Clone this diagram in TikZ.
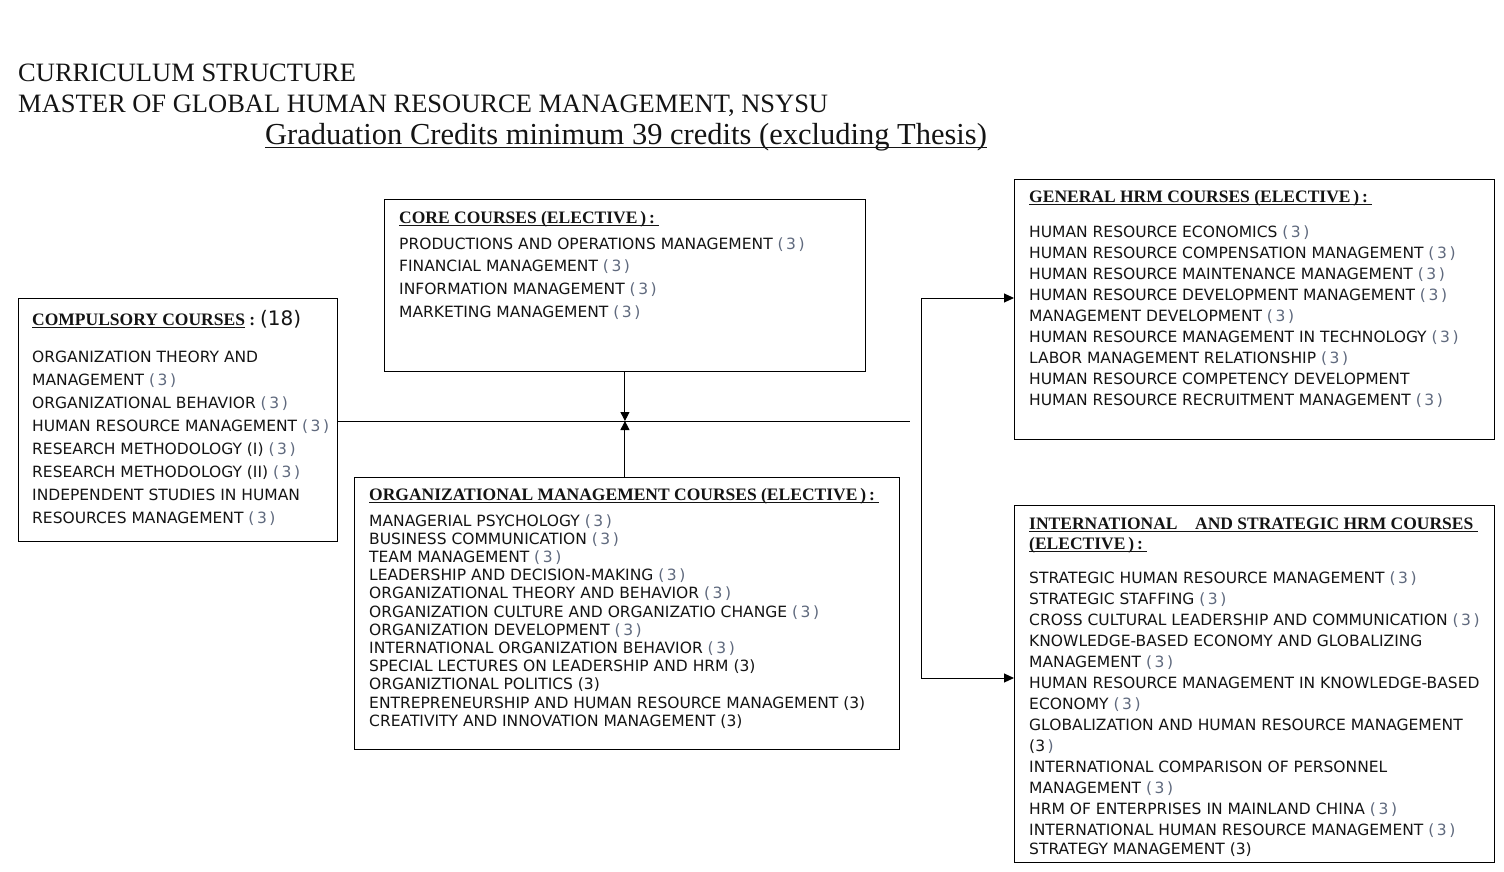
\documentclass[tikz,border=0pt]{standalone}
\usepackage{fontspec}
\usetikzlibrary{arrows.meta}
\setmainfont{Liberation Serif}
\newfontfamily\bodyfont{DejaVu Sans}
\definecolor{credgray}{RGB}{95,105,125}
\definecolor{inkblack}{RGB}{20,20,20}
\newsavebox\hdbox
\newcommand{\hdline}[1]{\leavevmode\sbox\hdbox{#1}\rlap{\rule[-2.6pt]{\wd\hdbox}{0.8pt}}\usebox\hdbox}
\newcommand{\credits}{\ {\color{credgray}(\,3\,)}}
\newcommand{\hdfont}{\rmfamily\fontsize{17.5}{20}\selectfont\bfseries}

\tikzset{
  crsframe/.style={draw, line width=0.9pt, anchor=north west, inner sep=0pt},
  txt/.style={anchor=base west, inner sep=0pt, text=inkblack},
  link/.style={line width=1pt},
  arrowlink/.style={-{Triangle[length=9pt,width=9pt]}}
}

\begin{document}
\begin{tikzpicture}[x=1pt,y=-1pt]
\useasboundingbox (0,0) rectangle (1504,872);

% title
\node[txt, font=\fontsize{26.5}{30}\selectfont] (title1) at (18,82) {CURRICULUM STRUCTURE};
\node[txt, font=\fontsize{26.5}{30}\selectfont] (title2) at (18,113) {MASTER OF GLOBAL HUMAN RESOURCE MANAGEMENT, NSYSU};
\node[txt, font=\fontsize{30.5}{34}\selectfont] (title3) at (265,145) {\hdline{Graduation Credits minimum 39 credits (excluding Thesis)}};

% frames
\node[crsframe, minimum width=319pt, minimum height=243pt] (comp) at (18,298) {};
\node[crsframe, minimum width=481pt, minimum height=172pt] (core) at (384,199) {};
\node[crsframe, minimum width=545pt, minimum height=272pt] (org) at (354,477) {};
\node[crsframe, minimum width=480pt, minimum height=260pt] (gen) at (1014,179) {};
\node[crsframe, minimum width=480pt, minimum height=357pt] (intl) at (1014,505) {};

% compulsory
\node[txt] (comptxt) at ([shift={(14,27)}]comp.north west) {\begin{minipage}[t]{300pt}\bodyfont\fontsize{15.5}{23}\selectfont
{\hdfont\hdline{COMPULSORY COURSES}\ :}\ {\fontsize{20}{23}\selectfont(18)}\\[14pt]
ORGANIZATION THEORY AND\\
MANAGEMENT\credits\\
ORGANIZATIONAL BEHAVIOR\credits\\
HUMAN RESOURCE MANAGEMENT\credits\\
RESEARCH METHODOLOGY (I)\credits\\
RESEARCH METHODOLOGY (II)\credits\\
INDEPENDENT STUDIES IN HUMAN\\
RESOURCES MANAGEMENT\credits
\end{minipage}};

% core
\node[txt] (coretxt) at ([shift={(15,24)}]core.north west) {\begin{minipage}[t]{460pt}\bodyfont\fontsize{15.5}{22.7}\selectfont
{\hdfont\hdline{CORE COURSES\ (ELECTIVE\,)\,:\ }}\\[3.3pt]
PRODUCTIONS AND OPERATIONS MANAGEMENT\credits\\
FINANCIAL MANAGEMENT\credits\\
INFORMATION MANAGEMENT\credits\\
MARKETING MANAGEMENT\credits
\end{minipage}};

% organizational management
\node[txt] (orgtxt) at ([shift={(15,23)}]org.north west) {\begin{minipage}[t]{520pt}\bodyfont\fontsize{15.5}{18.2}\selectfont
{\hdfont\hdline{ORGANIZATIONAL MANAGEMENT COURSES\ (ELECTIVE\,)\,:\ }}\\[7.8pt]
MANAGERIAL PSYCHOLOGY\credits\\
BUSINESS COMMUNICATION\credits\\
TEAM MANAGEMENT\credits\\
LEADERSHIP AND DECISION-MAKING\credits\\
ORGANIZATIONAL THEORY AND BEHAVIOR\credits\\
ORGANIZATION CULTURE AND ORGANIZATIO CHANGE\credits\\
ORGANIZATION DEVELOPMENT\credits\\
INTERNATIONAL ORGANIZATION BEHAVIOR\credits\\
SPECIAL LECTURES ON LEADERSHIP AND HRM (3)\\
ORGANIZTIONAL POLITICS (3)\\
ENTREPRENEURSHIP AND HUMAN RESOURCE MANAGEMENT (3)\\
CREATIVITY AND INNOVATION MANAGEMENT (3)
\end{minipage}};

% general hrm
\node[txt] (gentxt) at ([shift={(15,23)}]gen.north west) {\begin{minipage}[t]{460pt}\bodyfont\fontsize{15.5}{21}\selectfont
{\hdfont\hdline{GENERAL HRM COURSES\ (ELECTIVE\,)\,:\ }}\\[14pt]
HUMAN RESOURCE ECONOMICS\credits\\
HUMAN RESOURCE COMPENSATION MANAGEMENT\credits\\
HUMAN RESOURCE MAINTENANCE MANAGEMENT\credits\\
HUMAN RESOURCE DEVELOPMENT MANAGEMENT\credits\\
MANAGEMENT DEVELOPMENT\credits\\
HUMAN RESOURCE MANAGEMENT IN TECHNOLOGY\credits\\
LABOR MANAGEMENT RELATIONSHIP\credits\\
HUMAN RESOURCE COMPETENCY DEVELOPMENT\\
HUMAN RESOURCE RECRUITMENT MANAGEMENT\credits
\end{minipage}};

% international and strategic
\node[txt] (intltxt) at ([shift={(15,24)}]intl.north west) {\begin{minipage}[t]{470pt}\bodyfont\fontsize{15.5}{21}\selectfont
{\hdfont\hdline{INTERNATIONAL\quad AND STRATEGIC HRM COURSES\ }}\\[-1pt]
{\hdfont\hdline{(ELECTIVE\,)\,:\ }}\\[13pt]
STRATEGIC HUMAN RESOURCE MANAGEMENT\credits\\
STRATEGIC STAFFING\credits\\
CROSS CULTURAL LEADERSHIP AND COMMUNICATION\credits\\
KNOWLEDGE-BASED ECONOMY AND GLOBALIZING\\
MANAGEMENT\credits\\
HUMAN RESOURCE MANAGEMENT IN KNOWLEDGE-BASED\\
ECONOMY\credits\\
GLOBALIZATION AND HUMAN RESOURCE MANAGEMENT\\
(3\,{\color{credgray})}\\
INTERNATIONAL COMPARISON OF PERSONNEL\\
MANAGEMENT\credits\\
HRM OF ENTERPRISES IN MAINLAND CHINA\credits\\
INTERNATIONAL HUMAN RESOURCE MANAGEMENT\credits\\[-2pt]
STRATEGY MANAGEMENT (3)
\end{minipage}};

% connectors
\coordinate (hend) at (910,421);
\coordinate (brtop) at (921,298);
\coordinate (brbot) at (921,678);
\draw[link] (comp.east |- hend) -- (hend);
\draw[link, arrowlink] (core.south) -- (core.south |- hend);
\draw[link, arrowlink] (org.north -| core.south) -- (core.south |- hend);
\draw[link, {Triangle[length=10pt,width=9pt]}-{Triangle[length=10pt,width=9pt]}] (gen.west |- brtop) -- (brtop) -- (brbot) -- (intl.west |- brbot);
\end{tikzpicture}
\end{document}
